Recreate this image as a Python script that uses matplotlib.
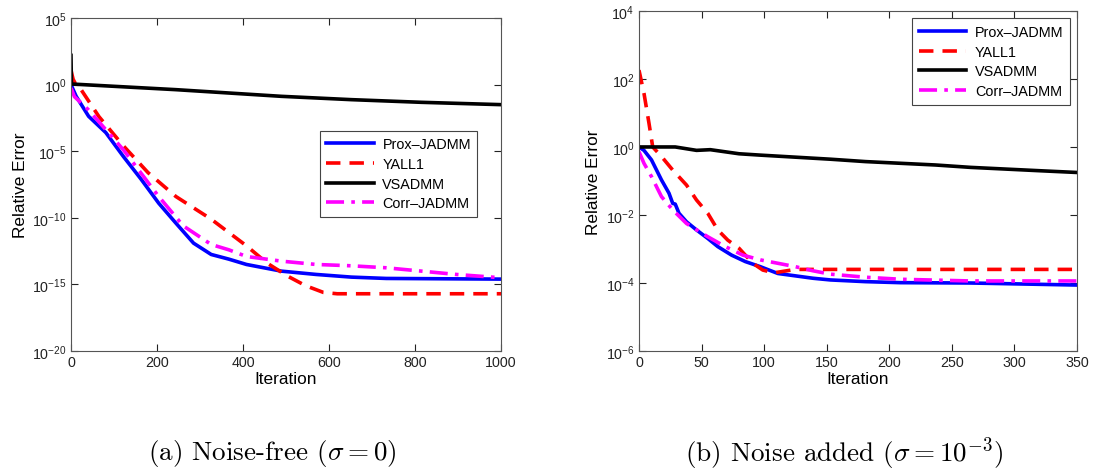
import numpy as np
import matplotlib
matplotlib.use("Agg")
import matplotlib.pyplot as plt
from matplotlib.ticker import FixedLocator, LogFormatterSciNotation, NullLocator

plt.rcParams['font.family'] = ['Liberation Sans', 'DejaVu Sans']
plt.rcParams['mathtext.fontset'] = 'custom'
plt.rcParams['mathtext.rm'] = 'Liberation Sans'
plt.rcParams['mathtext.it'] = 'Liberation Sans:italic'

labels = ["Prox\u2013JADMM", "YALL1", "VSADMM", "Corr\u2013JADMM"]

# ---- (a) noise-free: iterations and log10(relative error)
a_prox_it = [0, 12, 41, 81, 122, 163, 204, 244, 285, 326, 367, 408, 489, 570, 652, 733, 1000]
a_prox_lg = [0, -0.875, -2.375, -3.6, -5.4, -7.1, -8.9, -10.4, -11.9, -12.75, -13.1, -13.5,
             -14.0, -14.25, -14.45, -14.55, -14.6]
a_yall_it = [0, 2, 5, 10, 24, 65, 122, 179, 244, 326, 408, 456, 505, 546, 587, 619, 1000]
a_yall_lg = [1.1, 0.8, 0.4, 0.1, -0.4, -2.4, -4.6, -6.6, -8.4, -10.1, -12.1, -13.4, -14.4,
             -15.1, -15.6, -15.7, -15.7]
a_vsad_it = [0, 1, 244, 489, 652, 815, 1000]
a_vsad_lg = [2.2, 0.05, -0.375, -0.875, -1.125, -1.325, -1.5]
a_corr_it = [0, 8, 41, 122, 204, 261, 326, 367, 408, 489, 570, 652, 733, 815, 896, 1000]
a_corr_lg = [-0.25, -0.9, -1.9, -4.9, -8.4, -10.6, -12.0, -12.4, -12.9, -13.25, -13.5, -13.6,
             -13.75, -14.0, -14.25, -14.5]

# ---- (b) noise added
b_prox_it = [0, 4, 10, 18, 24, 27, 29, 32, 38, 46, 55, 63, 74, 85, 97, 111, 125, 139, 153,
             181, 209, 265, 350]
b_prox_lg = [0, -0.1, -0.38, -0.97, -1.36, -1.66, -1.68, -1.95, -2.2, -2.44, -2.69, -2.93,
             -3.18, -3.37, -3.52, -3.72, -3.79, -3.86, -3.91, -3.96, -3.99, -4.0, -4.06]
b_yall_it = [0, 4, 8, 11, 18, 27, 38, 46, 55, 63, 71, 80, 91, 99, 108, 125, 350]
b_yall_lg = [2.26, 1.58, 0.7, 0, -0.28, -0.68, -1.12, -1.56, -1.95, -2.44, -2.74, -2.98,
             -3.42, -3.62, -3.7, -3.6, -3.6]
b_vsad_it = [0, 29, 46, 57, 80, 97, 125, 153, 181, 209, 237, 265, 293, 321, 350]
b_vsad_lg = [0, 0, -0.1, -0.08, -0.2, -0.24, -0.3, -0.36, -0.43, -0.48, -0.53, -0.6, -0.65,
             -0.7, -0.75]
b_corr_it = [0, 4, 10, 18, 27, 38, 55, 69, 83, 97, 111, 125, 139, 153, 181, 209, 265, 350]
b_corr_lg = [-0.14, -0.48, -0.87, -1.46, -1.85, -2.25, -2.64, -2.93, -3.18, -3.32, -3.42,
             -3.52, -3.64, -3.74, -3.83, -3.89, -3.94, -3.94]

styles = [dict(color='#0000ff', ls='-'),
          dict(color='#ff0000', ls=(0, (4, 2.5))),
          dict(color='#000000', ls='-'),
          dict(color='#ff00ff', ls=(0, (5, 2, 1, 2)))]

fig = plt.figure(figsize=(10.99, 4.77), dpi=100)
ax1 = fig.add_axes([0.0646, 0.262, 0.3913, 0.698])
ax2 = fig.add_axes([0.5814, 0.262, 0.3985, 0.713])

panels = [
    (ax1, [(a_prox_it, a_prox_lg), (a_yall_it, a_yall_lg), (a_vsad_it, a_vsad_lg), (a_corr_it, a_corr_lg)],
     (0, 1000), (1e-20, 1e5), [10.0**k for k in range(-20, 6, 5)], [0, 200, 400, 600, 800, 1000],
     (0.945, 0.662)),
    (ax2, [(b_prox_it, b_prox_lg), (b_yall_it, b_yall_lg), (b_vsad_it, b_vsad_lg), (b_corr_it, b_corr_lg)],
     (0, 350), (1e-6, 1e4), [10.0**k for k in range(-6, 5, 2)], list(range(0, 351, 50)),
     (0.984, 0.978)),
]

for ax, series, xl, yl, yt, xt, anchor in panels:
    for (it, lg), st, lab in zip(series, styles, labels):
        ax.plot(it, 10.0 ** np.array(lg), lw=2.6, label=lab, **st)
    ax.set_yscale('log')
    ax.set_xlim(*xl)
    ax.set_ylim(*yl)
    ax.yaxis.set_major_locator(FixedLocator(yt))
    ax.yaxis.set_major_formatter(LogFormatterSciNotation())
    ax.yaxis.set_minor_locator(NullLocator())
    ax.set_xticks(xt)
    ax.tick_params(direction='in', top=True, right=True, labelsize=10.3, length=5,
                   colors='#222222', pad=3)
    for s in ax.spines.values():
        s.set_color('#555555')
        s.set_linewidth(0.8)
    ax.set_xlabel('Iteration', fontsize=12.4, labelpad=1)
    ax.set_ylabel('Relative Error', fontsize=12.4, labelpad=3)
    leg = ax.legend(loc='upper right', bbox_to_anchor=anchor, fontsize=10.4, handlelength=3.3,
                    fancybox=False, framealpha=1, borderaxespad=0, labelspacing=0.4,
                    handletextpad=0.6, borderpad=0.45)
    leg.get_frame().set_edgecolor('#444444')
    leg.get_frame().set_linewidth(0.8)

fig.text(0.2475, 0.05, r'(a) Noise-free ($\sigma = 0$)', ha='center', va='center',
         fontsize=19.5, family='cmr10', math_fontfamily='cm')
fig.text(0.768, 0.05, r'(b) Noise added ($\sigma = 10^{-3}$)', ha='center', va='center',
         fontsize=19.5, family='cmr10', math_fontfamily='cm')

fig.savefig('out.png', dpi=100)
